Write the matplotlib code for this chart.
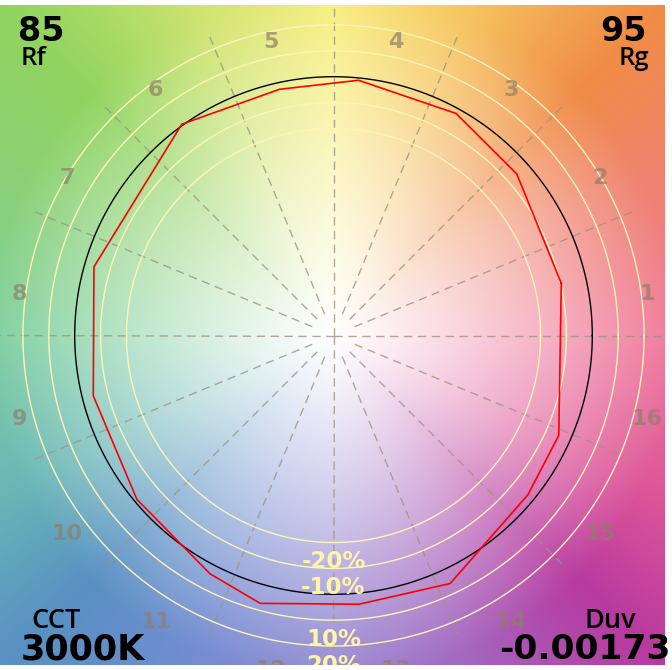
import numpy as np
import matplotlib
matplotlib.use("Agg")
import matplotlib.pyplot as plt

# ---------------- data ----------------
hue_bins = [str(i) for i in range(1, 17)]
# test-vertex hue angle (deg) and relative chroma (reference circle = 1)
vertex_hue_deg = [12.9, 41.4, 61.1, 84.4, 102.4, 125.7, 142.0, 164.0,
                  194.1, 219.8, 242.6, 254.7, 275.4, 295.2, 320.7, 336.1]
vertex_chroma = [0.903, 0.944, 0.980, 0.991, 0.974, 1.005, 0.933, 0.963,
                 0.957, 0.989, 1.037, 1.073, 1.043, 1.059, 0.971, 0.952]
ring_levels = [-20, -10, 10, 20]
ring_labels = ["-20%", "-10%", "10%", "20%"]
Rf_value = "85"
Rg_value = "95"
CCT_value = "3000K"
Duv_value = "-0.00173"

# background hue colours (angle deg, rgb)
bg_angles = [0, 29, 45, 67, 90, 112, 135, 151, 180, 206, 225, 248, 270, 292, 315, 334]
bg_colors = [(240, 122, 155), (240, 132, 108), (240, 140, 70), (246, 196, 96),
             (248, 238, 124), (208, 228, 112), (145, 212, 95), (140, 210, 115),
             (128, 208, 160), (105, 182, 182), (88, 145, 195), (118, 140, 210),
             (150, 138, 210), (164, 104, 192), (184, 58, 160), (222, 86, 152)]

# ---------------- layout ----------------
W, H, DPI = 672, 670, 100
R_PX = 258.8
CX, CY = 333.5, 335.5          # centre in image pixels
AX_L, AX_R, AX_T, AX_B = 0, 665, 5, 665


def px(v):
    return v / R_PX


fig = plt.figure(figsize=(W / DPI, H / DPI), dpi=DPI)
ax = fig.add_axes([AX_L / W, (H - AX_B) / H, (AX_R - AX_L) / W, (AX_B - AX_T) / H])
x0, x1 = px(AX_L - CX), px(AX_R - CX)
y0, y1 = px(CY - AX_B), px(CY - AX_T)
ax.set_xlim(x0, x1)
ax.set_ylim(y0, y1)
ax.set_axis_off()

# background gradient
nx, ny = AX_R - AX_L, AX_B - AX_T
xs = np.linspace(x0, x1, nx)
ys = np.linspace(y1, y0, ny)
XX, YY = np.meshgrid(xs, ys)
ang = np.degrees(np.arctan2(YY, XX)) % 360
rr = np.hypot(XX, YY)
img = np.zeros((ny, nx, 3))
cols = np.array(bg_colors) / 255.0
for c in range(3):
    img[..., c] = np.interp(ang, bg_angles, cols[:, c], period=360)
s = np.clip(rr * R_PX / 345.0, 0, 1) ** 1.15
img = 1 - (1 - img) * s[..., None]
ax.imshow(img, extent=(x0, x1, y0, y1), origin="upper", interpolation="bilinear",
          aspect="auto", zorder=0)

# dashed hue-bin boundaries
dash_col = (0.62, 0.58, 0.50)
for k in range(16):
    a = np.radians(k * 22.5)
    if k % 4 == 0:
        r0, r1 = 0, 2.0
    else:
        r0, r1 = px(23), px(324)
    ax.plot([r0 * np.cos(a), r1 * np.cos(a)], [r0 * np.sin(a), r1 * np.sin(a)],
            ls=(0, (6, 4)), color=dash_col, lw=1.0, alpha=0.8, zorder=2)
    if k % 4 == 0:
        ax.plot([0, -r1 * np.cos(a) * 0], [0, 0], alpha=0)

# rings
t = np.linspace(0, 2 * np.pi, 721)
for lv in ring_levels:
    r = 1 + lv / 100
    ax.plot(r * np.cos(t), r * np.sin(t), color="#fff4b8", lw=1.0, zorder=3)
ax.plot(np.cos(t), np.sin(t), color="black", lw=1.0, zorder=4)

# test polygon
va = np.radians(vertex_hue_deg)
vx = np.array(vertex_chroma) * np.cos(va)
vy = np.array(vertex_chroma) * np.sin(va)
ax.plot(np.append(vx, vx[0]), np.append(vy, vy[0]), color="red", lw=1.2, zorder=5)

# hue bin labels
lab_r = px(320)
lab_dy = px(18.5)
for j, lab in enumerate(hue_bins):
    a = np.radians((j + 0.5) * 22.5)
    lx = lab_r * np.cos(a)
    ly = lab_r * np.sin(a) - lab_dy - px(8.2)
    ax.text(lx, ly, lab, ha="center", va="baseline", fontsize=16, fontweight="bold",
            color=(0.55, 0.50, 0.42), alpha=0.7, zorder=6, clip_on=True)

# ring labels
for lv, lab in zip(ring_levels, ring_labels):
    r = 1 + lv / 100
    ax.text(0, -r - px(25.5), lab, ha="center", va="baseline", fontsize=16.5,
            fontweight="bold", color="#fff4a8", zorder=7, clip_on=True)


def ftxt(x, y, s, **kw):
    fig.text(x / W, 1 - y / H, s, **kw)


lab_font = dict(family=["Open Sans", "DejaVu Sans"], fontweight="semibold", color="black")
num_font = dict(family=["DejaVu Sans"], fontweight="bold", color="black")
ftxt(18, 41, Rf_value, ha="left", va="baseline", fontsize=24, **num_font)
ftxt(21, 65, "Rf", ha="left", va="baseline", fontsize=18.5, **lab_font)
ftxt(647, 41, Rg_value, ha="right", va="baseline", fontsize=24, **num_font)
ftxt(649, 65, "Rg", ha="right", va="baseline", fontsize=18.5, **lab_font)
ftxt(31, 628, "CCT", ha="left", va="baseline", fontsize=19.5, **lab_font)
ftxt(21, 659, CCT_value, ha="left", va="baseline", fontsize=25.2, **num_font)
ftxt(636, 628, "Duv", ha="right", va="baseline", fontsize=19.5, **lab_font)
ftxt(671, 659, Duv_value, ha="right", va="baseline", fontsize=24.8, **num_font)

fig.savefig("out.png", dpi=DPI)
